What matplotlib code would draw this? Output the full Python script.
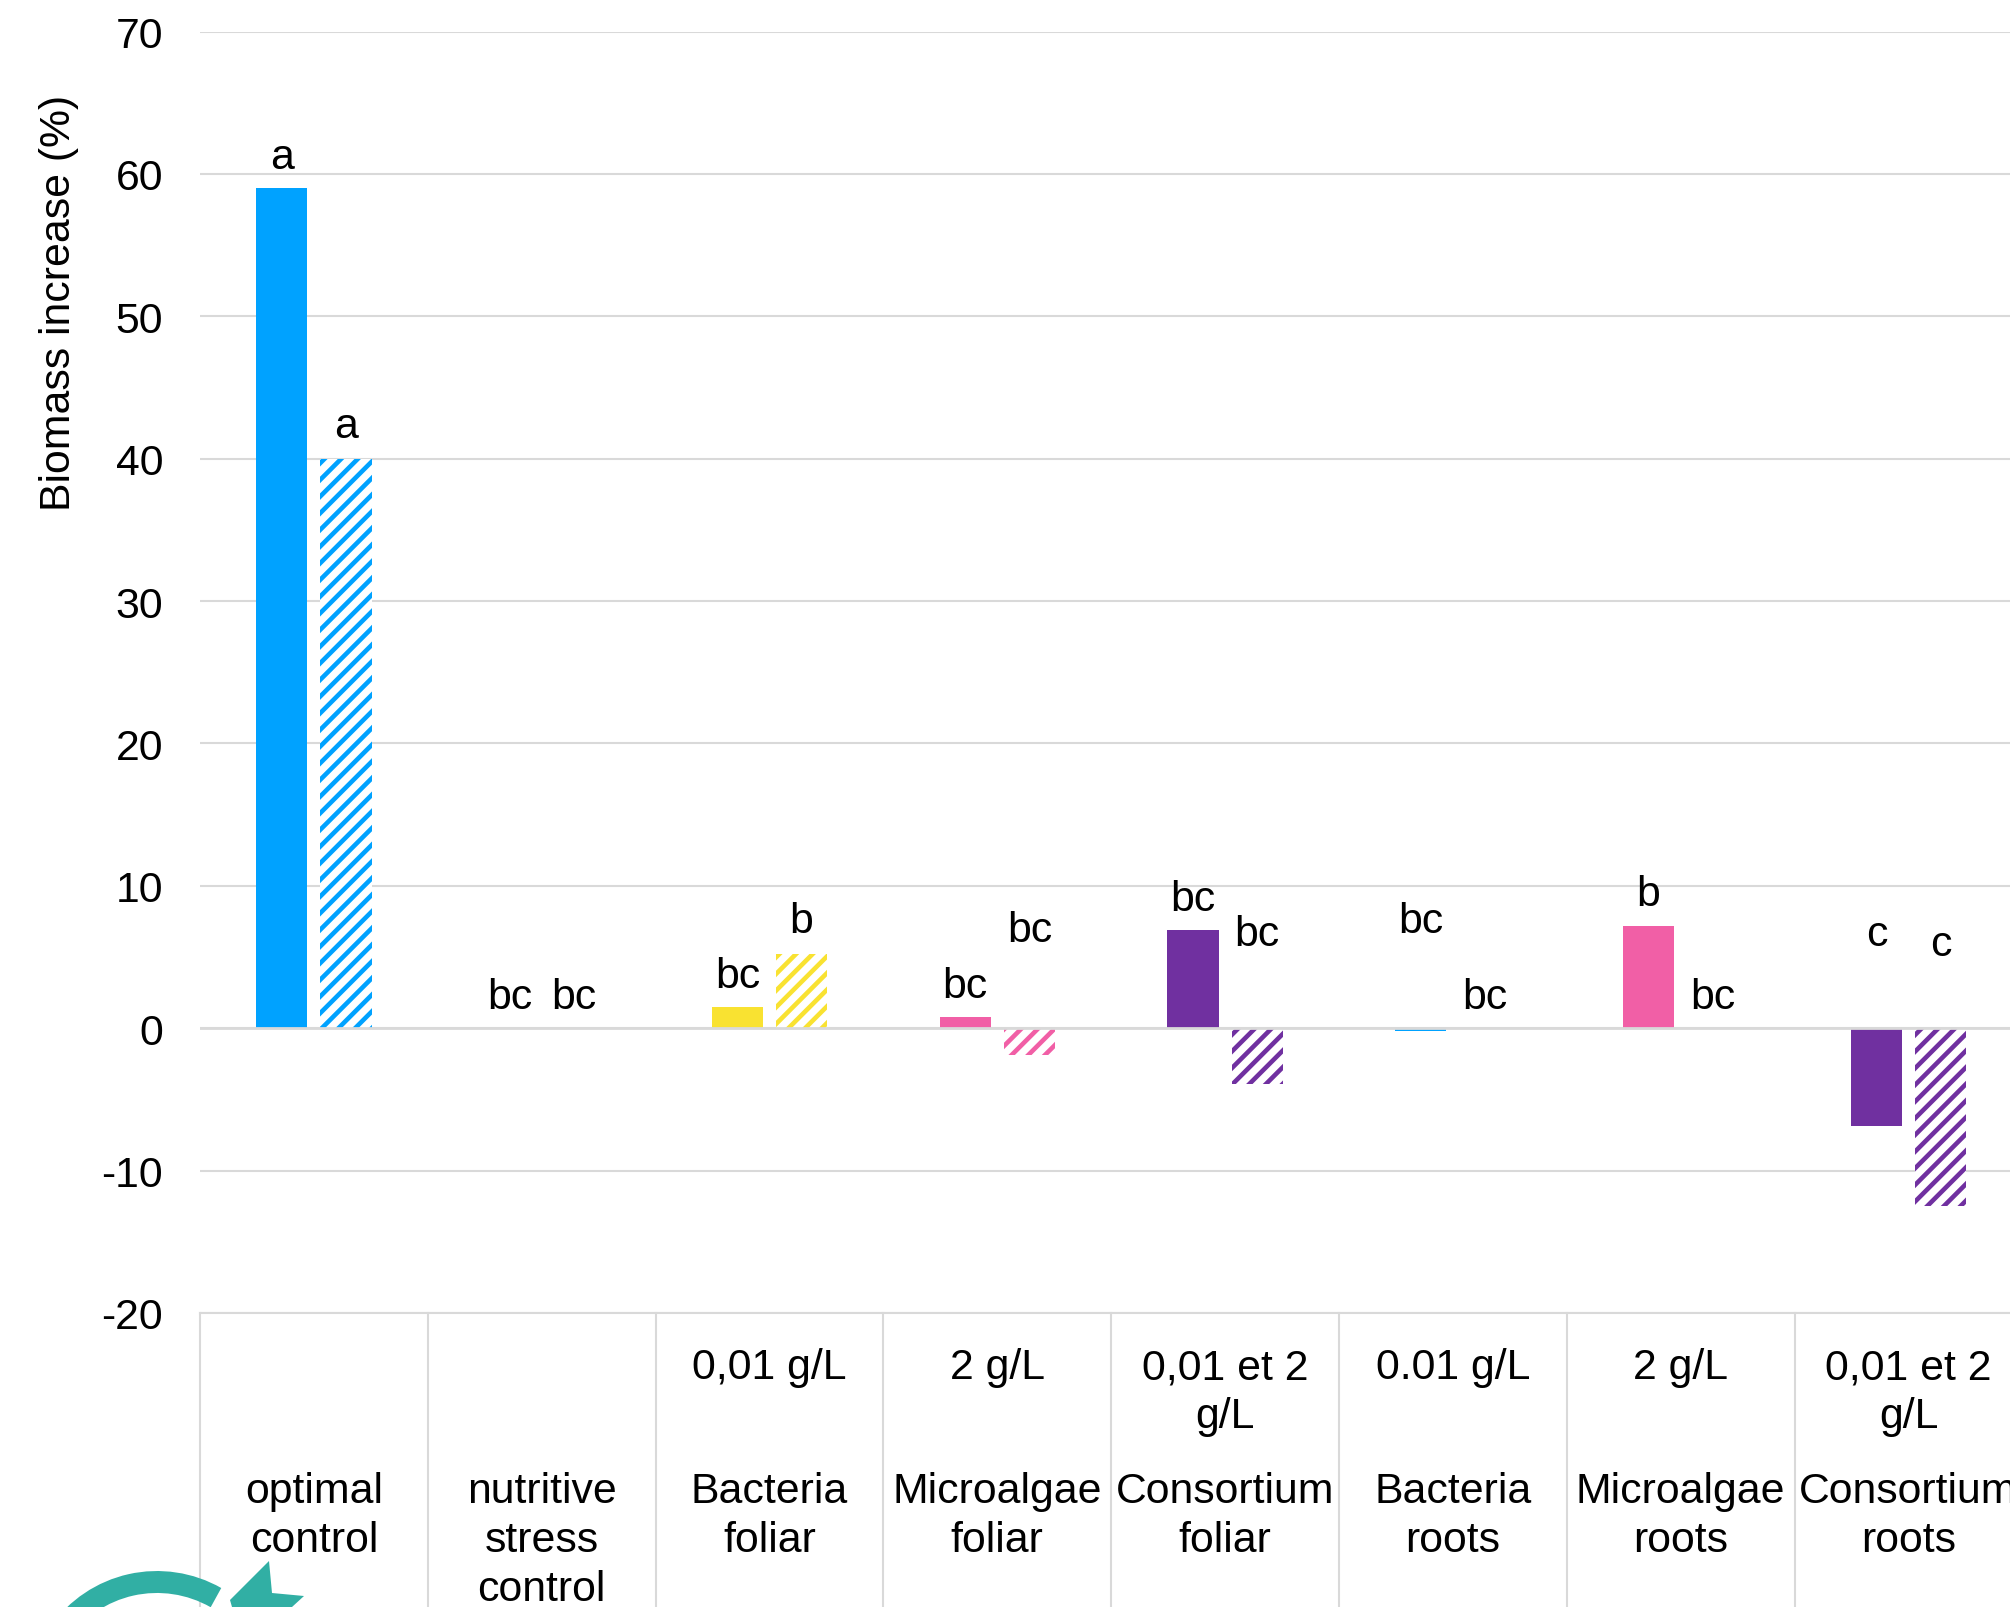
# -*- coding: utf-8 -*-
#Biomass increase per treatment, two bars per treatment group
import matplotlib
matplotlib.use('Agg')
import matplotlib.pyplot as plt
from matplotlib.patches import Arc, Polygon

plt.rcParams['font.family'] = ['Liberation Sans', 'DejaVu Sans']
plt.rcParams['hatch.linewidth'] = 3.3

#Values per treatment
Doses = ['', '', '0,01 g/L', '2 g/L', '0,01 et 2\ng/L', '0.01 g/L', '2 g/L', '0,01 et 2\ng/L']
Treatments = ['optimal\ncontrol', 'nutritive\nstress\ncontrol', 'Bacteria\nfoliar', 'Microalgae\nfoliar',
              'Consortium\nfoliar', 'Bacteria\nroots', 'Microalgae\nroots', 'Consortium\nroots']
Solid_Values = [59, 0, 1.5, 0.8, 6.9, -0.2, 7.2, -6.9]
Hatched_Values = [40, 0, 5.2, -1.9, -3.9, 0, 0, -12.5]
Colors = ['#00A2FF', '#00A2FF', '#F9E231', '#F15FA6', '#7030A0', '#00A2FF', '#F15FA6', '#7030A0']

#Significance letters and the height they sit at
Solid_Letters = ['a', 'bc', 'bc', 'bc', 'bc', 'bc', 'b', 'c']
Solid_Letter_Y = [61.2, 2.2, 3.7, 3.0, 9.05, 7.5, 9.4, 6.6]
Hatched_Letters = ['a', 'bc', 'b', 'bc', 'bc', 'bc', 'bc', 'c']
Hatched_Letter_Y = [42.3, 2.2, 7.5, 6.9, 6.6, 2.2, 2.2, 5.9]

Y_Ticks = [-20, -10, 0, 10, 20, 30, 40, 50, 60, 70]
GRID = '#D9D9D9'
FS = 30.8

fig = plt.figure(figsize=(20.1, 16.08), dpi=100)
#The last category runs slightly past the right edge of the figure
ax = fig.add_axes([200 / 2010, 1 - 1314 / 1608, 8 * 227.8 / 2010, (1314 - 32.5) / 1608])

Offset = 0.141
Width = 0.225
for i in range(len(Treatments)):
    ax.bar(i - Offset, Solid_Values[i], Width, color=Colors[i], linewidth=0, zorder=2)
    ax.bar(i + Offset, Hatched_Values[i], Width, facecolor='white', edgecolor=Colors[i],
           hatch='//', linewidth=0, zorder=2)
    ax.text(i - Offset, Solid_Letter_Y[i], Solid_Letters[i], ha='center', va='center', fontsize=FS)
    ax.text(i + Offset, Hatched_Letter_Y[i], Hatched_Letters[i], ha='center', va='center', fontsize=FS)

ax.set_xlim(-0.5, 7.5)
ax.set_ylim(-20, 70)
ax.set_yticks(Y_Ticks)
ax.set_yticklabels([str(v) for v in Y_Ticks], fontsize=FS)
ax.set_xticks([])
ax.tick_params(axis='y', length=0, pad=26.5)
ax.grid(axis='y', color=GRID, linewidth=1.5, zorder=1)
ax.set_axisbelow(True)
ax.axhline(0, color=GRID, linewidth=2, zorder=3)
ax.set_ylabel('Biomass increase (%)', fontsize=FS)
ax.yaxis.set_label_coords(-0.0665, 0.789)
for s in ax.spines.values():
    s.set_visible(False)

#Two-level category labels under the plot, split by vertical separators
ax.plot([-0.5, 7.5], [-20, -20], color=GRID, linewidth=1.5, clip_on=False, zorder=1)
Bottom = -20 - (1608 - 1314) / (1281.5 / 90)
for i in range(9):
    ax.plot([i - 0.5, i - 0.5], [-20, Bottom], color=GRID, linewidth=1.5, clip_on=False, zorder=1)
for i in range(len(Treatments)):
    if Doses[i]:
        ax.text(i, -22.4, Doses[i], ha='center', va='top', fontsize=FS, linespacing=1.3)
    ax.text(i, -31.08, Treatments[i], ha='center', va='top', fontsize=FS, linespacing=1.3)

#Circular arrow in the bottom corner, only its top shows
over = fig.add_axes([0, 0, 1, 1], facecolor='none')
over.set_xlim(0, 2010)
over.set_ylim(1608, 0)
over.axis('off')
over.add_patch(Arc((157, 1702), 238, 238, theta1=215, theta2=299.7, color='#31AFA4', linewidth=15.8))
over.add_patch(Polygon([[230, 1601], [269, 1562], [272, 1594], [304, 1597], [292, 1608], [232, 1608]],
                       closed=True, color='#31AFA4', linewidth=0))

fig.savefig('out.png', dpi=100)
